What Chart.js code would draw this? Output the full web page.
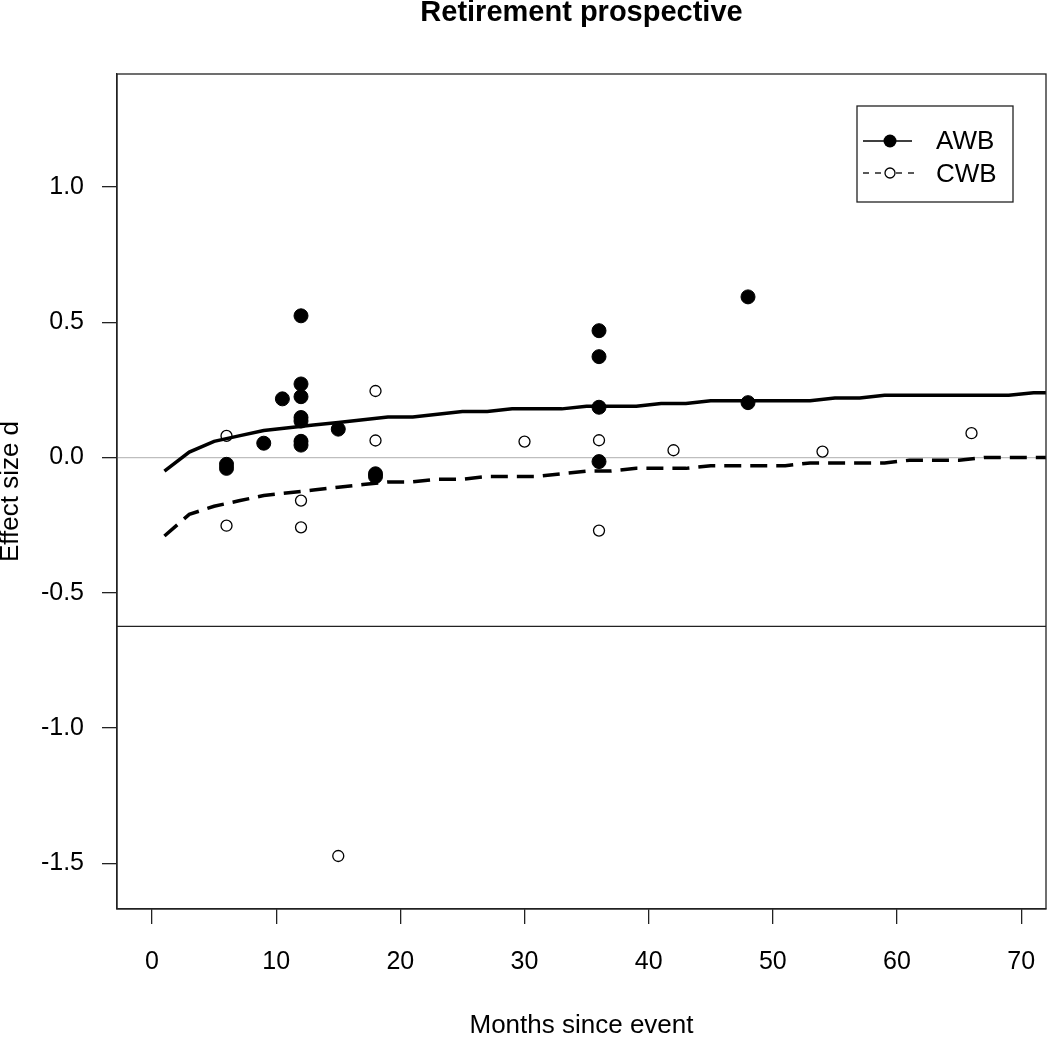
<!DOCTYPE html>
<html><head><meta charset="utf-8">
<script src="https://cdn.jsdelivr.net/npm/chart.js@4.4.1/dist/chart.umd.min.js"></script>
<style>html,body{margin:0;padding:0;background:#fff;}#wrap{width:1050px;height:1037px;}</style>
</head><body><div id="wrap"><canvas id="c" width="1050" height="1037"></canvas></div>
<script>
const titleText = 'Retirement prospective';
const xTitle = 'Months since event';
const yTitle = 'Effect size d';
const seriesNames = ['AWB', 'CWB'];
const xTicks = [0, 10, 20, 30, 40, 50, 60, 70];
const yTicks = [-1.5, -1.0, -0.5, 0.0, 0.5, 1.0];

const awbMonths = [6, 6, 9, 10.5, 12, 12, 12, 12, 12, 12, 12, 15, 18, 18, 36, 36, 36, 36, 48, 48];
const awbValues = [-0.025, -0.04, 0.053, 0.217, 0.524, 0.272, 0.225, 0.148, 0.135, 0.06, 0.046, 0.105, -0.06, -0.07, 0.469, 0.373, 0.186, -0.015, 0.594, 0.203];

const cwbMonths = [6, 6, 12, 12, 15, 18, 18, 30, 36, 36, 42, 54, 66];
const cwbValues = [0.080, -0.252, -0.159, -0.258, -1.473, 0.246, 0.063, 0.059, 0.064, -0.270, 0.027, 0.022, 0.090];

const trendMonths = [1, 3, 5, 7, 9, 11, 13, 15, 17, 19, 21, 23, 25, 27, 29, 31, 33, 35, 37, 39, 41, 43, 45, 47, 49, 51, 53, 55, 57, 59, 61, 63, 65, 67, 69, 71, 73];
const awbTrend = [-0.05, 0.02, 0.06, 0.08, 0.10, 0.11, 0.12, 0.13, 0.14, 0.15, 0.15, 0.16, 0.17, 0.17, 0.18, 0.18, 0.18, 0.19, 0.19, 0.19, 0.20, 0.20, 0.21, 0.21, 0.21, 0.21, 0.21, 0.22, 0.22, 0.23, 0.23, 0.23, 0.23, 0.23, 0.23, 0.24, 0.24];
const cwbTrend = [-0.29, -0.21, -0.18, -0.16, -0.14, -0.13, -0.12, -0.11, -0.10, -0.09, -0.09, -0.08, -0.08, -0.07, -0.07, -0.07, -0.06, -0.05, -0.05, -0.04, -0.04, -0.04, -0.03, -0.03, -0.03, -0.03, -0.02, -0.02, -0.02, -0.02, -0.01, -0.01, -0.01, 0.00, 0.00, 0.00, 0.00];

const zeroLine = 0;
const cutLine = -0.624;

const pts = (xs, ys) => xs.map((x, i) => ({x: x, y: ys[i]}));

Chart.defaults.font.family = "'Liberation Sans', Arial, sans-serif";
Chart.defaults.color = '#000';

const refPlugin = {
  id: 'refLines',
  beforeDatasetsDraw(chart) {
    const ctx = chart.ctx, a = chart.chartArea, ys = chart.scales.y;
    ctx.save();
    ctx.lineWidth = 1.3;
    ctx.strokeStyle = '#bebebe';
    let py = ys.getPixelForValue(zeroLine);
    ctx.beginPath(); ctx.moveTo(a.left, py); ctx.lineTo(a.right, py); ctx.stroke();
    ctx.strokeStyle = '#222';
    py = ys.getPixelForValue(cutLine);
    ctx.beginPath(); ctx.moveTo(a.left, py); ctx.lineTo(a.right, py); ctx.stroke();
    ctx.restore();
  },
  afterDatasetsDraw(chart) {
    const ctx = chart.ctx, a = chart.chartArea;
    ctx.save();
    ctx.lineWidth = 1.3;
    ctx.strokeStyle = '#222';
    ctx.strokeRect(a.left, a.top, a.right - a.left, a.bottom - a.top);
    // legend
    const bx = a.right - 189, by = a.top + 32, bw = 156, bh = 96;
    ctx.fillStyle = '#fff';
    ctx.fillRect(bx, by, bw, bh);
    ctx.strokeRect(bx, by, bw, bh);
    const rows = [by + 35, by + 67];
    ctx.strokeStyle = '#000';
    ctx.lineWidth = 1.3;
    ctx.setLineDash([]);
    ctx.beginPath(); ctx.moveTo(bx + 6, rows[0]); ctx.lineTo(bx + 55, rows[0]); ctx.stroke();
    ctx.fillStyle = '#000';
    ctx.beginPath(); ctx.arc(bx + 33, rows[0], 6.5, 0, Math.PI * 2); ctx.fill();
    ctx.setLineDash([6, 6]);
    ctx.beginPath(); ctx.moveTo(bx + 6, rows[1]); ctx.lineTo(bx + 27, rows[1]); ctx.stroke();
    ctx.beginPath(); ctx.moveTo(bx + 39, rows[1]); ctx.lineTo(bx + 57, rows[1]); ctx.stroke();
    ctx.setLineDash([]);
    ctx.beginPath(); ctx.arc(bx + 33, rows[1], 5, 0, Math.PI * 2); ctx.stroke();
    ctx.fillStyle = '#000';
    ctx.font = "26px 'Liberation Sans', Arial, sans-serif";
    ctx.textBaseline = 'middle';
    ctx.textAlign = 'left';
    ctx.fillText(seriesNames[0], bx + 79, rows[0] + 1);
    ctx.fillText(seriesNames[1], bx + 79, rows[1] + 2);
    ctx.restore();
  },
  afterLayout(chart) {
    if (chart.titleBlock) {
      chart.titleBlock.left = chart.chartArea.left;
      chart.titleBlock.right = chart.chartArea.right;
    }
  }
};

new Chart(document.getElementById('c'), {
  type: 'scatter',
  data: {
    datasets: [
      {label: seriesNames[0], data: pts(awbMonths, awbValues), pointRadius: 7, pointBackgroundColor: '#000', pointBorderColor: '#000', pointBorderWidth: 1, showLine: false},
      {label: seriesNames[1], data: pts(cwbMonths, cwbValues), pointRadius: 5.5, pointBackgroundColor: 'rgba(255,255,255,0)', pointBorderColor: '#000', pointBorderWidth: 1.3, showLine: false},
      {label: seriesNames[0] + ' trend', data: pts(trendMonths, awbTrend), showLine: true, pointRadius: 0, borderColor: '#000', borderWidth: 3.5, tension: 0, fill: false},
      {label: seriesNames[1] + ' trend', data: pts(trendMonths, cwbTrend), showLine: true, pointRadius: 0, borderColor: '#000', borderWidth: 3.5, borderDash: [17, 9], tension: 0, fill: false}
    ]
  },
  options: {
    responsive: false,
    devicePixelRatio: 1,
    animation: false,
    events: [],
    layout: {padding: {left: 0, right: 4, top: 0, bottom: 0}, autoPadding: false},
    plugins: {
      legend: {display: false},
      tooltip: {enabled: false},
      title: {display: true, text: titleText, color: '#000', font: {size: 29, weight: 'bold', lineHeight: 0.9}, padding: {top: 0, bottom: 47.9}}
    },
    scales: {
      x: {
        type: 'linear', min: -2.82, max: 72.0,
        afterBuildTicks: s => { s.ticks = xTicks.map(v => ({value: v})); },
        afterFit: s => { s.height = 128; s.paddingLeft = 0; s.paddingRight = 0; },
        grid: {display: true, drawOnChartArea: false, drawTicks: true, tickLength: 15, color: '#222', lineWidth: 1.3},
        border: {display: true, color: '#222', width: 1.3},
        ticks: {padding: 23, font: {size: 25}, color: '#000', maxRotation: 0, autoSkip: false, callback: v => String(v)},
        title: {display: true, text: xTitle, color: '#000', font: {size: 26, lineHeight: 0.8}, padding: {top: 0, bottom: 0.5}}
      },
      y: {
        type: 'linear', min: -1.669, max: 1.418,
        afterBuildTicks: s => { s.ticks = yTicks.map(v => ({value: v})); },
        afterFit: s => { s.width = 117; s.paddingTop = 0; s.paddingBottom = 0; },
        grid: {display: true, drawOnChartArea: false, drawTicks: true, tickLength: 15, color: '#222', lineWidth: 1.3},
        border: {display: true, color: '#222', width: 1.3},
        ticks: {padding: 18, font: {size: 25}, color: '#000', autoSkip: false, callback: v => Number(v).toFixed(1)},
        title: {display: true, text: yTitle, color: '#000', font: {size: 26, lineHeight: 0.8}, padding: {top: 0, bottom: 0}}
      }
    }
  },
  plugins: [refPlugin]
});
</script>
</body></html>
